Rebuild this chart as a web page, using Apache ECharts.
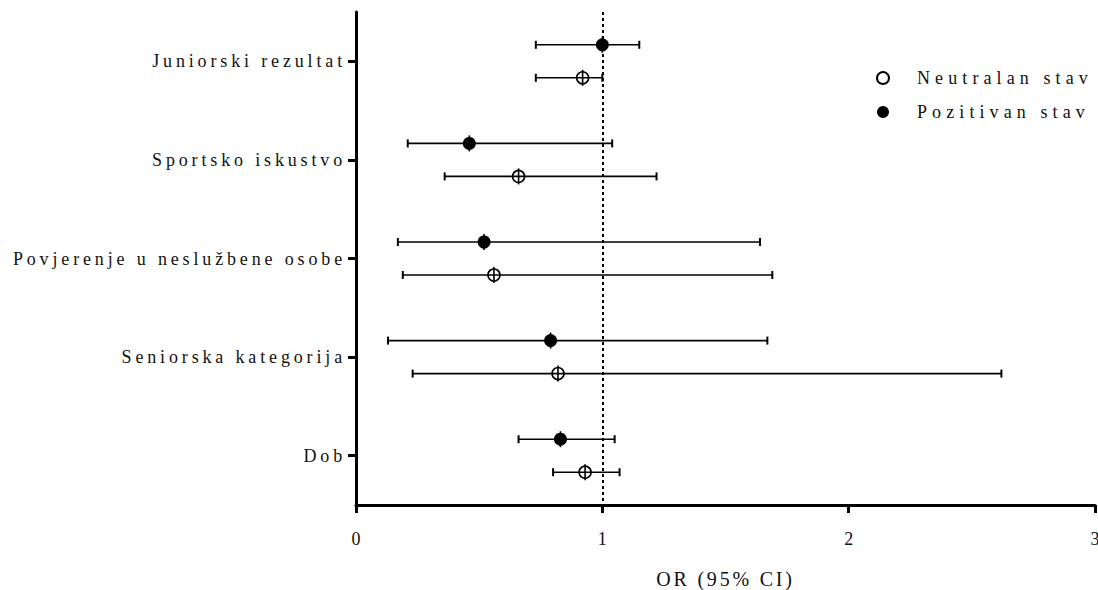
<!DOCTYPE html>
<html>
<head>
<meta charset="utf-8">
<script src="https://cdn.jsdelivr.net/npm/echarts@6/dist/echarts.min.js"></script>
<style>
html,body{margin:0;padding:0;background:#fff;}
#chart{width:1098px;height:590px;}
</style>
</head>
<body>
<div id="chart"></div>
<script>
// Categories (top to bottom)
const categories = ['Juniorski rezultat', 'Sportsko iskustvo', 'Povjerenje u neslužbene osobe', 'Seniorska kategorija', 'Dob'];
// Pozitivan stav: OR, lower CI, upper CI
const pozOR   = [1.00, 0.46, 0.52, 0.79, 0.83];
const pozLow  = [0.73, 0.21, 0.17, 0.13, 0.66];
const pozHigh = [1.15, 1.04, 1.64, 1.67, 1.05];
// Neutralan stav: OR, lower CI, upper CI
const neuOR   = [0.92, 0.66, 0.56, 0.82, 0.93];
const neuLow  = [0.73, 0.36, 0.19, 0.23, 0.80];
const neuHigh = [1.00, 1.22, 1.69, 2.62, 1.07];
const xTicks = [0, 1, 2, 3];
const refLine = 1;

const FONT = 'Liberation Serif';
const OFF = 16.5;

function errData(est, lo, hi) {
  return categories.map((c, i) => [i, lo[i], hi[i], est[i]]);
}
function makeRender(off) {
  return function (params, api) {
    const idx = api.value(0);
    const y = api.coord([0, idx])[1] + off;
    const xl = api.coord([api.value(1), idx])[0];
    const xh = api.coord([api.value(2), idx])[0];
    const xe = api.coord([api.value(3), idx])[0];
    const st = { stroke: '#000', lineWidth: 1.6 };
    return {
      type: 'group',
      children: [
        { type: 'line', shape: { x1: xl, y1: y, x2: xh, y2: y }, style: st },
        { type: 'line', shape: { x1: xl, y1: y - 4, x2: xl, y2: y + 4 }, style: { stroke: '#000', lineWidth: 2 } },
        { type: 'line', shape: { x1: xh, y1: y - 4, x2: xh, y2: y + 4 }, style: { stroke: '#000', lineWidth: 2 } },
        { type: 'line', shape: { x1: xe, y1: y - 8, x2: xe, y2: y + 8 }, style: st }
      ]
    };
  };
}

const chart = echarts.init(document.getElementById('chart'), null, { renderer: 'svg', width: 1098, height: 590 });
chart.setOption({
  animation: false,
  backgroundColor: '#fff',
  grid: { left: 356, right: 3, top: 12, bottom: 85, containLabel: false, outerBoundsMode: 'none' },
  legend: {
    data: ['Neutralan stav', 'Pozitivan stav'],
    orient: 'vertical',
    left: 871,
    top: 64,
    itemWidth: 12,
    itemHeight: 12,
    itemGap: 16,
    textStyle: { fontFamily: FONT, fontSize: 18, color: '#111', padding: [0, 0, 0, 23] }
  },
  xAxis: {
    type: 'value',
    min: xTicks[0],
    max: xTicks[xTicks.length - 1],
    interval: 1,
    name: 'OR (95% CI)',
    nameLocation: 'middle',
    nameGap: 64,
    nameTextStyle: { fontFamily: FONT, fontSize: 20, color: '#111' },
    axisLine: { show: true, onZero: false, lineStyle: { color: '#000', width: 3 } },
    axisTick: { show: true, inside: false, length: 8, lineStyle: { color: '#000', width: 3 } },
    axisLabel: { fontFamily: FONT, fontSize: 18, color: '#111', margin: 25 },
    splitLine: { show: false }
  },
  yAxis: {
    type: 'category',
    data: categories,
    inverse: true,
    axisLine: { show: true, lineStyle: { color: '#000', width: 3 } },
    axisTick: { show: true, alignWithLabel: true, length: 8, lineStyle: { color: '#000', width: 3 } },
    axisLabel: { fontFamily: FONT, fontSize: 18, color: '#111', margin: 10 },
    splitLine: { show: false }
  },
  series: [
    {
      name: 'Neutralan stav',
      type: 'scatter',
      data: categories.map((c, i) => [neuOR[i], i]),
      symbol: 'circle',
      symbolSize: 12,
      symbolOffset: [0, OFF],
      itemStyle: { color: '#fff', borderColor: '#000', borderWidth: 1.6, opacity: 1 },
      z: 2,
      markLine: {
        silent: true,
        symbol: 'none',
        label: { show: false },
        lineStyle: { color: '#000', width: 2, type: [3, 3] },
        data: [{ xAxis: refLine }]
      }
    },
    {
      name: 'Pozitivan stav',
      type: 'scatter',
      data: categories.map((c, i) => [pozOR[i], i]),
      symbol: 'circle',
      symbolSize: 13,
      symbolOffset: [0, -OFF],
      itemStyle: { color: '#000', opacity: 1 },
      z: 2
    },
    {
      name: 'neu-ci',
      type: 'custom',
      renderItem: makeRender(OFF),
      data: errData(neuOR, neuLow, neuHigh),
      encode: { x: [1, 2, 3], y: 0 },
      z: 3,
      silent: true
    },
    {
      name: 'poz-ci',
      type: 'custom',
      renderItem: makeRender(-OFF),
      data: errData(pozOR, pozLow, pozHigh),
      encode: { x: [1, 2, 3], y: 0 },
      z: 3,
      silent: true
    }
  ]
});

function spacing() {
  document.querySelectorAll('#chart text').forEach(t => {
    const s = t.textContent;
    if (categories.indexOf(s) >= 0) t.style.letterSpacing = '3.85px';
    else if (s === 'Neutralan stav' || s === 'Pozitivan stav') t.style.letterSpacing = '5.1px';
    else if (s === 'OR (95% CI)') t.style.letterSpacing = '2.8px';
  });
}
chart.on('finished', spacing);
setTimeout(spacing, 50);
</script>
</body>
</html>
